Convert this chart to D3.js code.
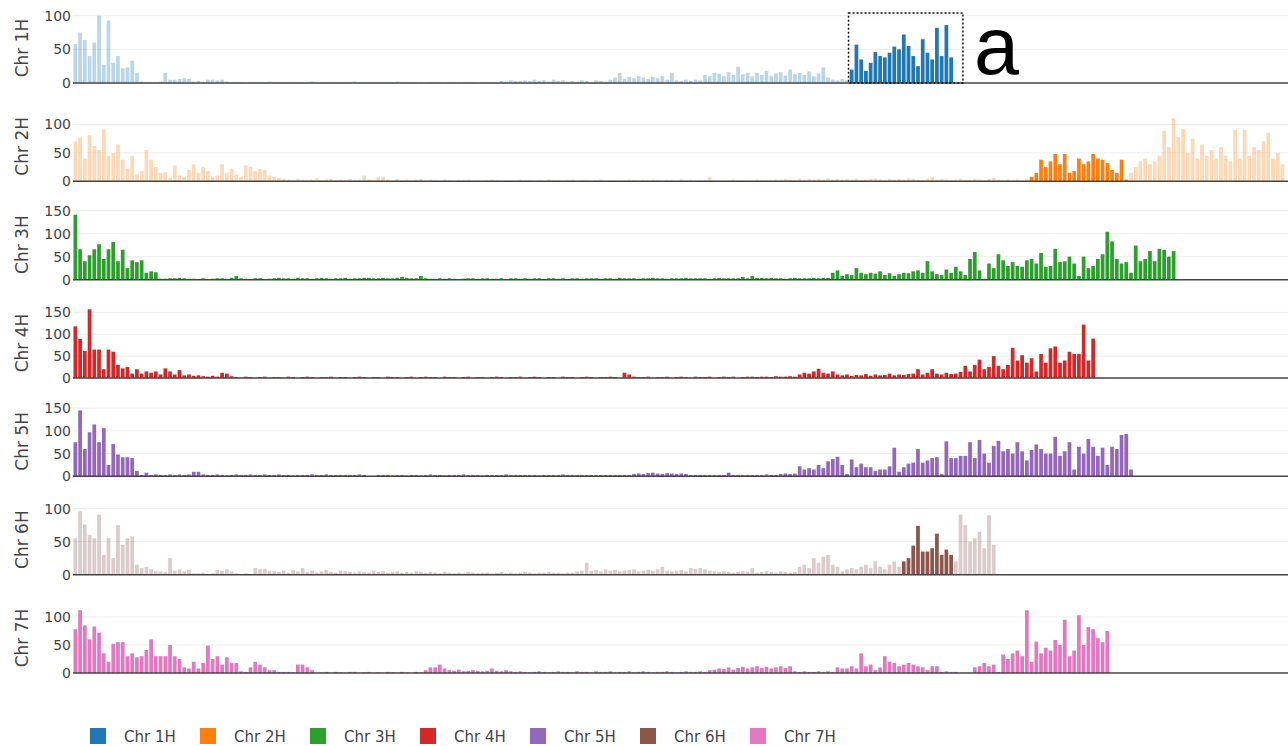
<!DOCTYPE html>
<html>
<head>
<meta charset="utf-8">
<script src="https://cdn.jsdelivr.net/npm/d3@7"></script>
<style>
  body { margin: 0; background: #fff; }
  svg { display: block; }
  .tick text { fill: #444; font-size: 14px; font-family: "DejaVu Sans", Verdana, sans-serif; }
  .axis-title, .legend text { fill: #444; font-family: "DejaVu Sans", Verdana, sans-serif; }
</style>
</head>
<body>
<div id="chart"></div>
<script>
const chromosomes = ["Chr 1H", "Chr 2H", "Chr 3H", "Chr 4H", "Chr 5H", "Chr 6H", "Chr 7H"];
const colors = ["#1f77b4", "#ff7f0e", "#2ca02c", "#d62728", "#9467bd", "#8c564b", "#e377c2"];
const binSize = 3; // Mb per bar

// counts per 3 Mb bin
const chr1H = [
  58,75,64,40,60,100,27,93,30,40,22,23,33,15,
  2,1,1,1,2,15,5,5,6,7,6,2,3,1,5,5,4,5,2,
  1,1,1,0,1,1,1,1,2,1, 1,1,1,1,1,1,1,2,1,1, 1,1,1,1,1,1,2,1,1,1, 1,1,1,1,1,2,1,1,1,1,
  1,0,1,1,1,0,1,1,1,1,1,1,0,1,1,1,1,
  3,2,4,3,3,4,3,5,3,4,2,5,3,4,2,3,
  2,4,3,1,4,3,2,
  5,8,15,6,9,7,10,8,6,9,7,10,5,15,
  4,3,5,3,5,4,
  12,10,15,14,10,16,12,24,13,15,10,
  15,12,18,10,14,16,11,20,13,15,12,17,10,14,23,8,
  5,4,6,4,
  20,57,35,18,30,46,40,38,45,54,50,72,55,40,25,65,45,35,82,40,86,38
];
const chr2H = [
  70,77,40,81,62,55,91,45,50,65, 38,22,45,12,18,55,38,25,15,16, 6,28,10,8,20,30,15,25,18,8,
  10,30,15,22,12,8,28,25,18,22, 20,10,8,6,4,
  3,2,4,3,2,3,5,2,3,4, 2,3,2,4,3,3,10,3,2,8, 8,3,2,4,2,3,2,3,4,2, 3,
  2,1,3,2,1,2,2,3,1,2, 1,2,3,2,1,2,2,1,3,2, 2,1,2,1,3,2,2,1,2,3, 1,2,2,1,2,3,1,2,2,1,
  2,3,2,1,2,2,3,2,1,2, 2,1,3,2,2,1,2,2,8,2, 2,1,2,3,2,2,1,2,3,2, 2,2,3,3,4,3,2,4,3,4,
  3,4,3,5,3,4,3,4,
  3,4,2,3,4,5,3,2,4,3, 4,3,5,4,3,2,4,8,3,4, 3,2,3,4,2,3,4,3,2,4, 6,3,2,3,2,3,2,3,
  8,15,38,25,35,48,30,48,15,18, 40,30,35,48,40,38,32,20,15,38, 3,
  15,25,35,40,30,35,45,89,60,111, 78,92,50,75,40,65,45,55,40,60, 45,35,90,40,90,45,60,55,70,85,
  40,50,30
];
const chr3H = [
  141,66,40,53,66,77,45,66,82,40,65,25,42,38,42,15,18,16,2,
  2,3,3,4,3,2,2,1,3,0, 2,3,3,2,4,8,3,2,0,3, 3,0,2,3,4,3,3,2,4,3, 3,2,3,4,3,2,3,3,4,2,
  3,3,4,4,3,3,4,3,3,4, 6,4,3,3,8,3,2,
  2,3,2,3,2,0,2,3,3,2, 3,3,2,2,3,0,3,3,2,3, 2,3,3,2,3,3,2,3,0,3, 3,2,3,3,3,2,3,3,2,4,
  3,3,3,2,3,3,4,3,3,2, 3,3,3,4,3,3,3,3,2,3, 4,3,3,3,3,6,3,8,4,4, 3,4,3,3,2,3,4,3,3,3,
  4,3,4,4,15,20,
  8,12,10,25,15,12,15,13,18,10, 14,8,12,15,14,18,20,15,40,18, 12,10,22,15,28,18,10,45,60,20,
  2,35,25,55,42,30,38,30,28,42, 45,35,58,28,30,67,38,40,50,35, 8,50,25,30,45,55,104,83,45,35,
  38,15,74,40,45,62,40,67,65,50, 62
];
const chr4H = [
  118,89,62,157,65,65,20,65,60,30, 22,25,10,20,10,15,12,15,8,22, 15,8,18,6,8,5,6,4,3,5, 3,12,10,4,
  2,0,3,2,0,2,3,0,2,2, 0,3,2,0,2,3,2,0,2,2, 3,0,2,2,0,2,3,2,0,2, 2,0,3,2,2,0,2,3,0,2, 3,2,
  2,0,3,2,2,0,2,3,0,2, 2,0,2,3,2,0,2,2,3,0, 2,3,2,0,2,2,0,3,2,2, 0,2,3,2,0,2,2,3,2,0,
  12,8,3,2,2,3,0,2,2,3, 0,2,3,2,0,3,2,2,3,0, 2,3,2,3,0,2,3,3,2,3, 3,2,4,3,3,4,3,
  8,12,10,15,21,12,10,15,8,
  6,8,5,7,6,9,5,8,6,7, 10,6,8,7,9,10,20,8,12,20, 10,8,12,9,10,14,
  28,15,30,42,20,25,50,28,20,30, 69,40,52,35,45,15,55,35,68,72, 35,40,60,55,55,122,40,90
];
const chr5H = [
  75,145,60,97,114,75,106,25,71,48, 42,42,40,12,3,8,
  3,4,3,3,4,3,4,3,4,10, 10,4,3,3,4,3,2,3,4,3, 3,4,3,3,4,3,3,4,3,3, 2,3,3,3,4,3,3,4,3,3,
  3,3,3,3,4,3,0,0,3,3, 3,2,3,3,2,3,3,2,3,4,
  3,3,2,3,3,3,4,3,3,3, 2,3,3,3,3,4,3,3,3,3, 3,3,2,3,3,3,3,4,3,3, 3,3,3,3,3,3,3,3,3,3,
  3,3,5,6,5,7,8,6,5,7, 6,5,6,5,3,3,3,3,3,3, 3,3,8,3,3,3,3,3,3,3, 4,3,3,5,6,5,6,
  22,15,18,15,25,18,33,38,43,
  25,5,37,20,28,20,20,12,15,15, 22,63,10,20,28,30,60,30,35,40, 42,5,77,40,40,45,45,75,40,80,
  50,30,67,78,55,60,50,75,55,35, 58,70,60,50,50,87,45,55,75,15, 65,50,82,65,45,63,25,65,60,91,
  93,15
];
const chr6H = [
  55,96,76,60,55,91,30,55,25,75, 45,55,58,15,10,12,8,5,5,4, 25,
  6,8,5,7,2,2,3,1,2,7, 6,8,5,2,1,2,1,10,8,9, 6,
  5,4,6,3,7,5,10,4,6,3, 5,7,4,3,6,5,4,3,5,4, 3,6,4,5,3,4,5,3,4,3, 5,4,3,4,
  3,2,4,3,2,3,2,4,3,2, 3,3,2,3,4,2,3,2,3,4, 3,2,3,3,4,3,3,2,3,3, 5,6,18,6,7,5,8,6,7,5,
  6,7,8,5,6,7,6,8,12,6, 5,6,7,5,10,9,10,8,6,5, 4,5,4,3,4,5,4,10,3,4, 5,4,3,5,4,3,4,
  12,15,10,25,18,27,30,15,12,
  5,8,10,8,12,15,10,20,12,8,15,20,12,
  20,25,44,74,35,35,40,62,30,38,30,
  20,91,75,50,55,65,40,90,45
];
const chr7H = [
  78,112,85,60,83,72,35,20,52,55, 55,30,35,28,30,41,60,30,30,30, 50,30,25,10,8,20,8,18,49,25,
  30,15,28,18,18,3,2,10,20,15, 10,5,5,2,2,2,1,15,15,10, 5,
  0,1,2,0,2,1,0,2,2,0, 1,2,0,1,0,2,1,0,2,1, 0,2,1,5,10,
  10,15,8,5,4,6,3,4,5,4, 3,4,8,4,3,5,3,2,3,2, 1,2,3,2,1,2,3,2,2,1, 3,2,2,1,3,2,2,3,1,2,
  2,3,1,2,3,2,1,2,2,3, 2,1,2,3,2,2,3,2,5,6, 8,7,10,6,9,11,8,10,12,9, 11,8,10,12,9,12,3,2,3,2,
  2,3,2,3,2,10,
  8,8,12,8,35,12,15,5,10,30, 20,18,12,15,18,15,12,10,5,12, 12,2,3,2,2,0,0,0,10,12,
  18,12,15,2,33,25,35,40,30,112, 20,56,35,45,40,59,50,95,30,40, 103,50,82,78,62,55,75
];

const series = [chr1H, chr2H, chr3H, chr4H, chr5H, chr6H, chr7H];
const yMax = [104, 123, 152, 160, 154, 106, 125];
// Mb window drawn in full colour; null means the whole chromosome
const highlights = [[492, 561], [606, 669], null, null, null, [525, 558], null];
const boxRange = [491.5, 564]; // dotted frame around the 1H window
const panelLabel = "a";

const width = 1288;
const height = 746;
const margin = { top: 13, left: 73 };
const panelHeight = 70;
const panelStep = 98.33;

const x = d3.scaleLinear().domain([0, 770]).range([margin.left, width]);
const barWidth = x(binSize) - x(0) - 1;

const svg = d3
  .select("#chart")
  .append("svg")
  .attr("width", width)
  .attr("height", height);

series.forEach((values, i) => {
  const top = margin.top + i * panelStep;
  const y = d3
    .scaleLinear()
    .domain([0, yMax[i]])
    .range([top + panelHeight, top]);
  const ticks = d3.range(0, yMax[i], 50);
  const hl = highlights[i];
  const g = svg.append("g").attr("class", "panel");

  g.append("g")
    .selectAll("line")
    .data(ticks.slice(1))
    .join("line")
    .attr("x1", margin.left)
    .attr("x2", width)
    .attr("y1", (d) => y(d))
    .attr("y2", (d) => y(d))
    .attr("stroke", "#eee")
    .attr("stroke-width", 1);

  g.append("g")
    .selectAll("rect")
    .data(values)
    .join("rect")
    .attr("x", (d, j) => x(j * binSize) + 0.5)
    .attr("width", barWidth)
    .attr("y", (d) => y(d))
    .attr("height", (d) => y(0) - y(d))
    .attr("fill", colors[i])
    .attr("fill-opacity", (d, j) =>
      !hl || (j * binSize >= hl[0] && j * binSize < hl[1]) ? 1 : 0.3
    );

  g.append("line")
    .attr("x1", margin.left)
    .attr("x2", width)
    .attr("y1", y(0))
    .attr("y2", y(0))
    .attr("stroke", "#444")
    .attr("stroke-width", 1.5);

  g.append("g")
    .attr("transform", `translate(${margin.left},0)`)
    .call(d3.axisLeft(y).tickValues(ticks).tickSize(0).tickPadding(2))
    .call((a) => a.select(".domain").remove());

  g.append("text")
    .attr("class", "axis-title")
    .attr("transform", `translate(27.5,${top + panelHeight / 2}) rotate(-90)`)
    .attr("text-anchor", "middle")
    .attr("font-size", 17)
    .text(chromosomes[i]);

  if (i === 0) {
    g.append("rect")
      .attr("x", x(boxRange[0]))
      .attr("y", top)
      .attr("width", x(boxRange[1]) - x(boxRange[0]))
      .attr("height", panelHeight)
      .attr("fill", "none")
      .attr("stroke", "#111")
      .attr("stroke-width", 1.5)
      .attr("stroke-dasharray", "2,2");

    g.append("text")
      .attr("x", x(boxRange[1]) + 11)
      .attr("y", top + panelHeight - 9)
      .attr("font-family", "'Liberation Sans', Arial, sans-serif")
      .attr("font-size", 81)
      .attr("fill", "#000")
      .text(panelLabel);
  }
});

const legend = svg
  .append("g")
  .attr("class", "legend")
  .selectAll("g")
  .data(chromosomes)
  .join("g")
  .attr("transform", (d, i) => `translate(${90 + i * 110},728)`);

legend
  .append("rect")
  .attr("width", 16)
  .attr("height", 16)
  .attr("fill", (d, i) => colors[i]);

legend
  .append("text")
  .attr("x", 34)
  .attr("y", 14)
  .attr("font-size", 15)
  .text((d) => d);
</script>
</body>
</html>
